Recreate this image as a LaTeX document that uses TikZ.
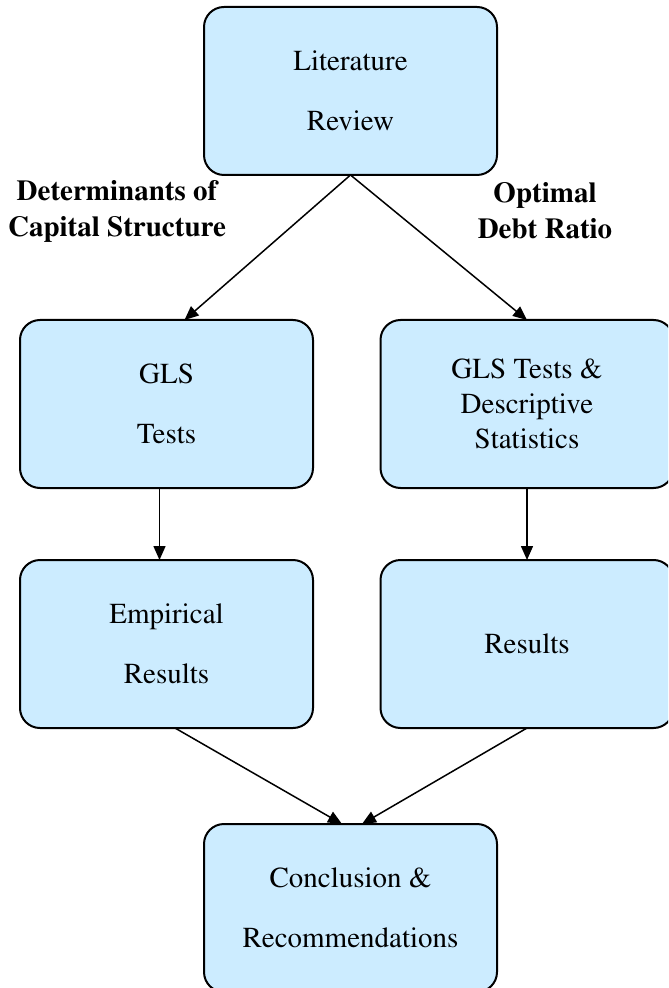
\documentclass[tikz,border=0pt]{standalone}
\usepackage[T1]{fontenc}
\usepackage{mathptmx}
\usetikzlibrary{arrows.meta}
\definecolor{boxblue}{RGB}{204,236,255}

\tikzset{
  stage/.style={draw, line width=1pt, fill=boxblue, rounded corners=10pt,
    minimum width=146.5pt, minimum height=84pt, inner sep=0pt, outer sep=0pt,
    align=center, font=\fontsize{14.5}{30}\selectfont},
  link/.style={-{Triangle[length=7pt,width=6pt]}, line width=0.75pt},
  branch/.style={align=center, font=\fontsize{14.5}{18}\selectfont\bfseries}
}

\begin{document}
\begin{tikzpicture}[x=0.5pt,y=-0.5pt]
\clip (0,0) rectangle (668,988);
\useasboundingbox (0,0) rectangle (668,988);
% stages
\node[stage] (lit) at (350.5,91) {Literature\\Review};
\node[stage] (gls) at (166.5,404) {GLS\\Tests};
\node[stage, font=\fontsize{14.5}{17.5}\selectfont] (desc) at (527,404) {GLS Tests \&\\Descriptive\\Statistics};
\node[stage] (emp) at (166.5,644) {Empirical\\Results};
\node[stage] (res) at (527,644) {Results};
\node[stage] (concl) at (350.5,908) {Conclusion \&\\Recommendations};
% branch labels
\node[branch] (detlbl) at (117,211) {Determinants of\\Capital Structure};
\node[branch] (optlbl) at (545,211) {Optimal\\Debt Ratio};
% links
\draw[link] (lit.south) -- ([xshift=9pt]gls.north);
\draw[link] (lit.south) -- (desc.north);
\draw[link] ([xshift=-3.5pt]gls.south) -- ([xshift=-3.5pt]emp.north);
\draw[link] (desc.south) -- (res.north);
\draw[link] ([xshift=4.25pt]emp.south) -- ([xshift=-4.25pt]concl.north);
\draw[link] (res.south) -- ([xshift=5.75pt]concl.north);
\end{tikzpicture}
\end{document}
